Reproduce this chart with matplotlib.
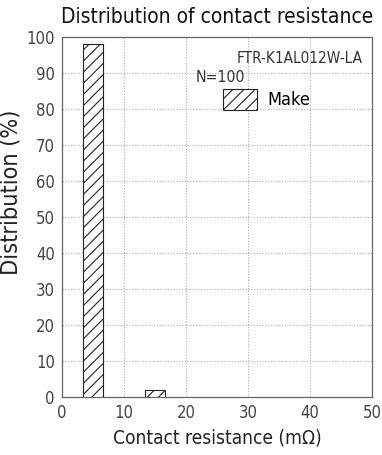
import matplotlib
matplotlib.use("Agg")
import matplotlib.pyplot as plt
from matplotlib.font_manager import fontManager

# Data
resistance_mohm = [5, 15]
distribution_pct = [98, 2]
x_ticks = [0, 10, 20, 30, 40, 50]
y_ticks = [0, 10, 20, 30, 40, 50, 60, 70, 80, 90, 100]

# condensed face if there is one
cond = [f for f in fontManager.ttflist if f.stretch in ("condensed", "semi-condensed", 600, 700)]
if cond:
    plt.rcParams["font.family"] = [cond[0].name, "DejaVu Sans"]
    plt.rcParams["font.stretch"] = "condensed"
else:
    plt.rcParams["font.family"] = ["Roboto", "DejaVu Sans"]
plt.rcParams["hatch.linewidth"] = 0.8

fig = plt.figure(figsize=(3.82, 4.55), dpi=100)
ax = fig.add_axes([0.162, 0.1275, 0.812, 0.7915])

ax.bar(resistance_mohm, distribution_pct, width=3.2, color="white",
       edgecolor="#222222", linewidth=0.8, hatch="///", zorder=3, label="Make")

ax.set_xlim(0, 50)
ax.set_ylim(0, 100)
ax.set_xticks(x_ticks)
ax.set_yticks(y_ticks)
ax.tick_params(length=0, labelsize=12, colors="#444444", pad=5)
ax.grid(True, linestyle=(0, (1, 1.5)), color="#aaaaaa", linewidth=0.8, zorder=0)
for s in ax.spines.values():
    s.set_color("#666666")
    s.set_linewidth(0.9)

ax.set_xlabel("Contact resistance (mΩ)", fontsize=13.7, color="#222222", labelpad=5)
ax.set_ylabel("Distribution (%)", fontsize=16.8, color="#222222")
ax.yaxis.set_label_coords(-0.128, 0.567)
ax.set_title("Distribution of contact resistance", fontsize=15, color="#111111", pad=10)

ax.text(48.5, 94, "FTR-K1AL012W-LA", fontsize=11, color="#333333", ha="right", va="center")
ax.text(21.5, 88.6, "N=100", fontsize=11.3, color="#333333", ha="left", va="center")
ax.legend(loc="upper left", bbox_to_anchor=(0.497, 0.875), frameon=False, fontsize=13,
          handlelength=1.87, handleheight=1.37, handletextpad=0.6, borderaxespad=0)

fig.savefig("out.png", dpi=100)
